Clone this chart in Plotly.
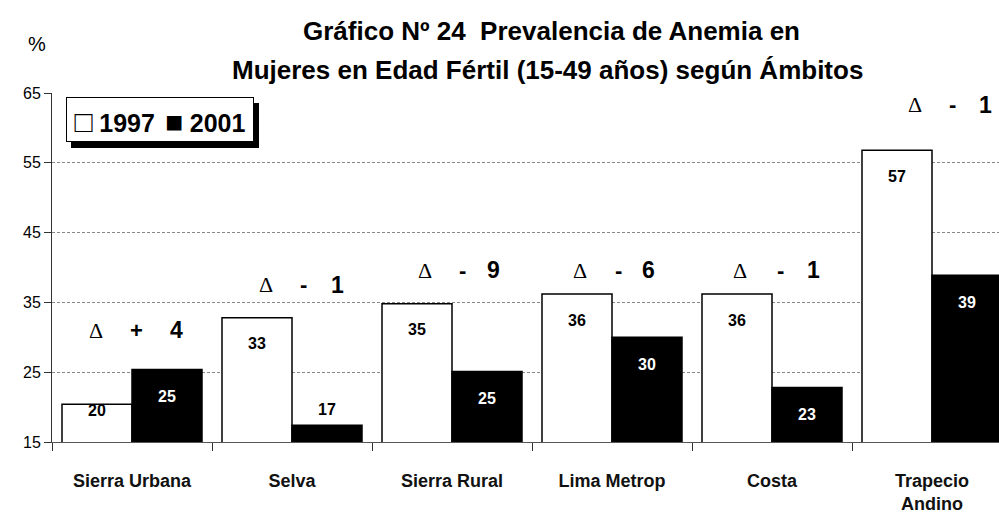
import plotly.graph_objects as go

categories = ["Sierra Urbana", "Selva", "Sierra Rural", "Lima Metrop", "Costa", "Trapecio<br>Andino"]
values_1997 = [20.4, 32.8, 34.8, 36.2, 36.2, 56.8]
values_2001 = [25.4, 17.4, 25.1, 30.0, 22.8, 38.9]
labels_1997 = ["20", "33", "35", "36", "36", "57"]
labels_2001 = ["25", "17", "25", "30", "23", "39"]
delta_signs = ["+", "-", "-", "-", "-", "-"]
delta_digits = ["4", "1", "9", "6", "1", "1"]
delta_y = [31.0, 37.5, 39.6, 39.6, 39.6, 63.3]
y_ticks = [15, 25, 35, 45, 55, 65]

title_line1 = "Gráfico Nº 24  Prevalencia de Anemia en"
title_line2 = "Mujeres en Edad Fértil (15-49 años) según Ámbitos"

# ---- layout helpers (pixel -> paper) ----
W, H = 999, 521
L, R, T, B = 52, 0, 93, 79
PW, PH = W - L - R, H - T - B
def fx(p):
    return (p - L) / PW
def fy(p):
    return (H - B - p) / PH

SANS = "Liberation Sans, Arial, sans-serif"
SERIF = "Liberation Serif, Times New Roman, serif"

fig = go.Figure()
fig.add_trace(go.Bar(name="1997", x=categories, y=values_1997,
                     marker=dict(color="white", line=dict(color="black", width=1.5)),
                     showlegend=False))
fig.add_trace(go.Bar(name="2001", x=categories, y=values_2001,
                     marker=dict(color="black", line=dict(color="black", width=1.5)),
                     showlegend=False))

ann = []
# bar value labels
shift_1997 = [-6, -26, -26, -26, -26, -26]
shift_2001 = [-27, 16, -27, -27, -27, -27]
col_2001 = ["white", "black", "white", "white", "white", "white"]
for i, c in enumerate(categories):
    ann.append(dict(x=c, y=values_1997[i], xref="x", yref="y", text="<b>%s</b>" % labels_1997[i],
                    showarrow=False, xshift=-35, yshift=shift_1997[i], yanchor="middle",
                    font=dict(family=SANS, size=16, color="black")))
    ann.append(dict(x=c, y=values_2001[i], xref="x", yref="y", text="<b>%s</b>" % labels_2001[i],
                    showarrow=False, xshift=35, yshift=shift_2001[i], yanchor="middle",
                    font=dict(family=SANS, size=16, color=col_2001[i])))

# delta labels
dx_delta = [-36, -26, -27, -32, -32, -17]
dx_sign = [4, 11, 10, 6, 8, 20]
dx_digit = [44, 45, 41, 36, 41, 53]
for i, c in enumerate(categories):
    ann.append(dict(x=c, y=delta_y[i], xref="x", yref="y", text="Δ", showarrow=False,
                    xshift=dx_delta[i], yanchor="middle",
                    font=dict(family=SERIF, size=22, color="black")))
    ann.append(dict(x=c, y=delta_y[i], xref="x", yref="y", text="<b>%s</b>" % delta_signs[i],
                    showarrow=False, xshift=dx_sign[i], yanchor="middle",
                    font=dict(family=SANS, size=22, color="black")))
    ann.append(dict(x=c, y=delta_y[i], xref="x", yref="y", text="<b>%s</b>" % delta_digits[i],
                    showarrow=False, xshift=dx_digit[i], yanchor="middle",
                    font=dict(family=SANS, size=23, color="black")))

# title
ann.append(dict(x=fx(551), y=fy(31), xref="paper", yref="paper", text="<b>%s</b>" % title_line1,
                showarrow=False, xanchor="center", yanchor="middle",
                font=dict(family=SANS, size=26, color="black")))
ann.append(dict(x=fx(547), y=fy(70), xref="paper", yref="paper", text="<b>%s</b>" % title_line2,
                showarrow=False, xanchor="center", yanchor="middle",
                font=dict(family=SANS, size=26, color="black")))
# y unit
ann.append(dict(x=fx(37), y=fy(44), xref="paper", yref="paper", text="%",
                showarrow=False, xanchor="center", yanchor="middle",
                font=dict(family=SANS, size=20, color="black")))
# legend box
SQ = "<span style='font-size:30px'>%s</span>"
GAP1 = "<span style='font-size:24px'> </span>"
GAP2 = "<span style='font-size:36px'> </span>"
legend_text = SQ % "□" + GAP1 + "<b>1997</b>" + GAP2 + SQ % "■" + GAP1 + "<b>2001</b>"
ann.append(dict(x=fx(66), y=fy(97), xref="paper", yref="paper",
                text=legend_text,
                showarrow=False, xanchor="left", yanchor="top", width=186, height=43,
                align="center", valign="middle", bgcolor="white", bordercolor="black",
                borderwidth=1, borderpad=0,
                font=dict(family=SANS, size=25, color="black")))

shapes = [dict(type="rect", xref="paper", yref="paper", x0=fx(71), x1=fx(259), y0=fy(148), y1=fy(103),
               fillcolor="black", line=dict(width=0), layer="above")]

fig.update_layout(
    width=W, height=H,
    margin=dict(l=L, r=R, t=T, b=B, pad=0),
    paper_bgcolor="white", plot_bgcolor="white",
    barmode="group", bargap=0.125, bargroupgap=0,
    annotations=ann, shapes=shapes,
    font=dict(family=SANS, color="black"),
)
fig.update_xaxes(range=[-0.5, -0.5 + PW / 160], showline=True, linecolor="#555", linewidth=1,
                 ticks="outside", tickson="boundaries", ticklen=8, tickcolor="#333",
                 tickfont=dict(family=SANS, size=18, color="#111", weight="bold"),
                 ticklabelstandoff=22, showgrid=False, zeroline=False, automargin=False)
fig.update_yaxes(range=[15, 65], tickvals=y_ticks, showline=True, linecolor="#333", linewidth=1,
                 ticks="outside", ticklen=7, tickcolor="#333",
                 tickfont=dict(family=SANS, size=16, color="black"),
                 showgrid=True, gridcolor="#888", gridwidth=1, griddash="3px,2px", zeroline=False,
                 automargin=False)

fig.write_html("out.html", config={"displayModeBar": False},
               post_script="document.body.style.margin='0px';document.body.style.overflow='hidden';")
